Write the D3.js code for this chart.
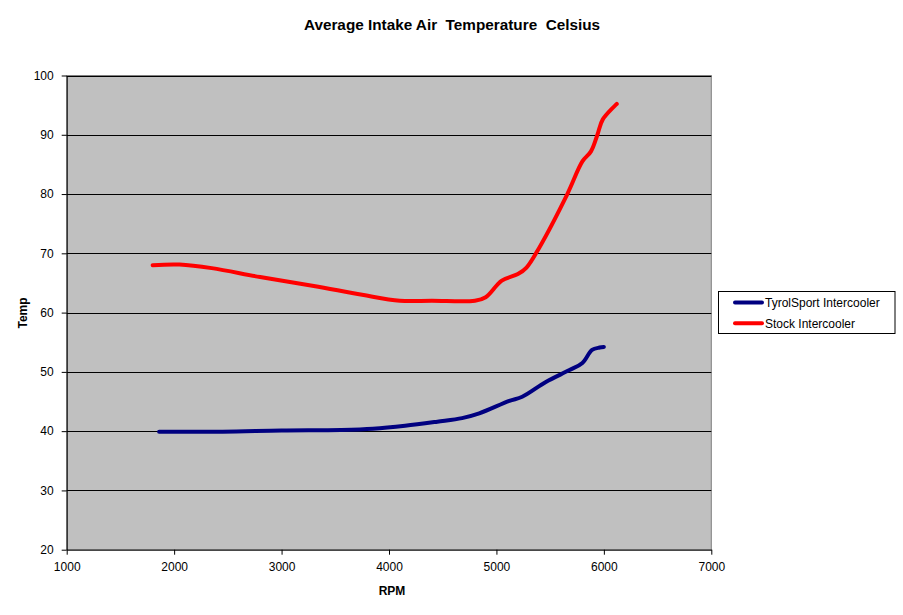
<!DOCTYPE html>
<html><head><meta charset="utf-8">
<script src="https://cdn.jsdelivr.net/npm/d3@7"></script>
<style>body{margin:0;background:#fff;}svg{display:block;font-family:"Liberation Sans",Arial,sans-serif;}</style>
</head><body>
<script>
const xTicks = [1000,2000,3000,4000,5000,6000,7000];
const yTicks = [20,30,40,50,60,70,80,90,100];
const seriesNames = ["TyrolSport Intercooler","Stock Intercooler"];
const seriesColors = ["#000080","#FF0000"];
const tyrolRpm  = [1860,2450,3000,3550,3850,4150,4450,4680,4840,5120,5240,5460,5680,5800,5890,5960,6000];
const tyrolTemp = [39.9,39.9,40.1,40.2,40.4,40.9,41.6,42.2,43.0,45.1,45.8,48.3,50.3,51.5,53.7,54.1,54.2];
const stockRpm  = [1800,2050,2350,2800,3300,3750,4100,4400,4800,4900,5050,5200,5280,5400,5660,5800,5880,5940,5990,6120];
const stockTemp = [68.0,68.1,67.5,66.0,64.5,63.0,62.0,62.0,62.0,62.6,65.4,66.5,67.6,71.0,80.0,85.5,87.2,90.0,92.6,95.2];

const W=903,H=615;
const svg=d3.select("body").append("svg").attr("width",W).attr("height",H);
const L=66.7,R=711.3,T=75.5,B=549.7;
const x=d3.scaleLinear().domain([1000,7000]).range([L,R]);
const y=d3.scaleLinear().domain([20,100]).range([B,T]);

svg.append("rect").attr("x",L).attr("y",T).attr("width",R-L).attr("height",B-T).attr("fill","#C0C0C0").attr("stroke","#808080").attr("stroke-width",1);

svg.append("g").selectAll("line").data(yTicks.filter(v=>v>20)).join("line")
  .attr("x1",L).attr("x2",R).attr("y1",d=>Math.round(y(d))+0.5).attr("y2",d=>Math.round(y(d))+0.5)
  .attr("stroke","#000").attr("stroke-width",1);

const xAxis=svg.append("g").attr("transform",`translate(0,${B})`)
  .call(d3.axisBottom(x).tickValues(xTicks).tickFormat(d3.format("d")).tickSizeInner(5).tickSizeOuter(0).tickPadding(8));
const yAxis=svg.append("g").attr("transform",`translate(${L},0)`)
  .call(d3.axisLeft(y).tickValues(yTicks).tickSizeInner(5).tickSizeOuter(0).tickPadding(8));
[xAxis,yAxis].forEach(a=>{a.selectAll("text").attr("font-size",12).attr("fill","#000").attr("font-family","Liberation Sans, Arial, sans-serif");
  a.selectAll("line,path").attr("stroke","#000");});

const line=d3.line().x(d=>x(d[0])).y(d=>y(d[1])).curve(d3.curveCatmullRom.alpha(0.5));
const series=[d3.zip(tyrolRpm,tyrolTemp),d3.zip(stockRpm,stockTemp)];
series.forEach((s,i)=>{
  svg.append("path").datum(s).attr("d",line).attr("fill","none").attr("stroke",seriesColors[i])
    .attr("stroke-width",4).attr("stroke-linecap","round").attr("stroke-linejoin","round");
});

const title=svg.append("text").attr("x",452).attr("y",30).attr("text-anchor","middle").attr("font-size",15.3).attr("font-weight","bold").attr("xml:space","preserve");
title.text("Average Intake Air  Temperature  Celsius");
svg.append("text").attr("x",392).attr("y",595).attr("text-anchor","middle").attr("font-size",12).attr("font-weight","bold").text("RPM");
svg.append("text").attr("transform","translate(27,313) rotate(-90)").attr("text-anchor","middle").attr("font-size",12).attr("font-weight","bold").text("Temp");

const lg=svg.append("g");
lg.append("rect").attr("x",718.5).attr("y",291.5).attr("width",176.5).attr("height",42).attr("fill","#fff").attr("stroke","#000");
seriesNames.forEach((n,i)=>{
  const yy=302.5+i*20.8;
  lg.append("line").attr("x1",735).attr("x2",762).attr("y1",yy).attr("y2",yy).attr("stroke",seriesColors[i]).attr("stroke-width",4).attr("stroke-linecap","round");
  lg.append("text").attr("x",765).attr("y",yy+4.5).attr("font-size",12).text(n);
});
</script>
</body></html>
